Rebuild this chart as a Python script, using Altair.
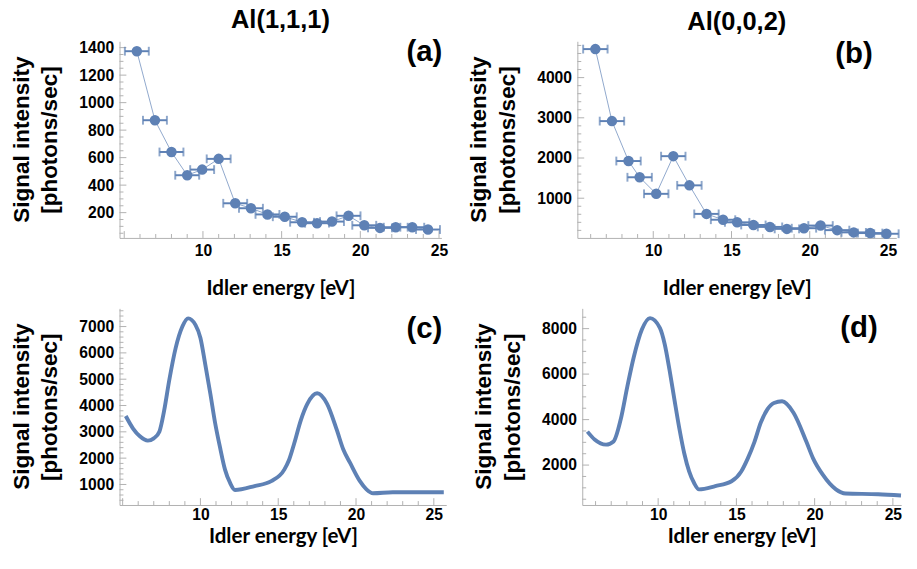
import altair as alt
import pandas as pd

BLUE = "#5E81B5"
AXIS_GRAY = "#b0b0b0"
TICK_FONT = "Liberation Sans"

# ---- Panel (a): Al(1,1,1) measured ----
a_x = [5.8, 6.95, 8.0, 9.0, 9.95, 11.0, 12.05, 13.05, 14.1, 15.2, 16.3, 17.25,
       18.2, 19.25, 20.25, 21.25, 22.25, 23.3, 24.3]
a_y = [1374, 872, 641, 472, 513, 591, 268, 232, 187, 170, 130, 123,
       135, 177, 108, 89, 94, 94, 77]
a_err = 0.76

# ---- Panel (b): Al(0,0,2) measured ----
b_x = [6.3, 7.36, 8.42, 9.13, 10.19, 11.28, 12.31, 13.4, 14.46, 15.36, 16.4,
       17.46, 18.54, 19.63, 20.69, 21.75, 22.81, 23.86, 24.9]
b_y = [4709, 2918, 1925, 1521, 1109, 2046, 1320, 610, 465, 400, 334,
       286, 237, 254, 320, 206, 150, 133, 116]
b_err = 0.78

# ---- Panel (c): Al(1,1,1) simulated ----
c_x = [5.2, 5.67, 6.09, 6.62, 7.0, 7.36, 7.67, 7.99, 8.41, 8.84, 9.21, 9.68,
       10.0, 10.31, 10.64, 10.95, 11.27, 11.58, 11.9, 12.22, 13.48, 14.55,
       15.39, 15.7, 16.03, 16.45, 16.87, 17.5, 18.14, 18.77, 19.19, 19.62,
       20.25, 20.67, 21.1, 22.36, 25.64]
c_y = [3602, 3126, 2840, 2665, 2751, 3004, 3814, 4940, 6189, 7000, 7312, 7063,
       6565, 5565, 4439, 3316, 2379, 1565, 1067, 792, 941, 1126,
       1565, 1940, 2565, 3439, 4063, 4465, 4063, 3063, 2316, 1818,
       1126, 814, 665, 703, 703]

# ---- Panel (d): Al(0,0,2) simulated ----
d_x = [5.48, 5.94, 6.67, 7.15, 7.61, 8.03, 8.44, 8.96, 9.48, 10.11, 10.42,
       10.73, 11.04, 11.36, 11.67, 11.98, 12.29, 12.61, 13.65, 14.69, 15.31,
       15.73, 16.15, 16.56, 16.98, 17.4, 17.92, 18.65, 19.48, 19.9, 20.52,
       21.36, 21.98, 24.06, 25.52]
d_y = [3471, 3127, 2899, 3041, 4017, 5449, 6740, 7957, 8460, 8030, 7312,
       6168, 4877, 3587, 2512, 1720, 1221, 933, 1075, 1290, 1720,
       2297, 3011, 3871, 4447, 4731, 4804, 4301, 3011, 2297, 1578,
       933, 748, 718, 662]

x_major = [10, 15, 20, 25]
x_all = list(range(5, 27))
a_ymajor = [200, 400, 600, 800, 1000, 1200, 1400]
a_yall = list(range(50, 1500, 50))
b_ymajor = [1000, 2000, 3000, 4000]
b_yall = list(range(200, 5000, 200))
c_ymajor = [1000, 2000, 3000, 4000, 5000, 6000, 7000]
c_yall = list(range(200, 7800, 200))
d_ymajor = [2000, 4000, 6000, 8000]
d_yall = list(range(500, 9000, 500))


def panel(xs, ys, err, xdom, ydom, W, H, ymaj, yall, label, lab_dx, lab_y,
          title=None, lpad=6, tpad=8):
    df = pd.DataFrame({"x": xs, "y": ys})
    xsc = alt.Scale(domain=xdom, nice=False, zero=False)
    ysc = alt.Scale(domain=ydom, nice=False, zero=False)
    base = alt.Chart(df)

    main_x = alt.X("x:Q", scale=xsc, axis=alt.Axis(
        values=x_major, format="d", ticks=False, grid=False, domainColor=AXIS_GRAY, domainWidth=1,
        labelFont=TICK_FONT, labelFontWeight="bold", labelFontSize=16, labelColor="black",
        labelPadding=lpad, title="Idler energy [eV]", titleFont="Lato", titleFontSize=21,
        titleFontWeight="bold", titleColor="black", titlePadding=tpad))
    main_y = alt.Y("y:Q", scale=ysc, axis=alt.Axis(
        values=ymaj, format="d", ticks=False, grid=False, domainColor=AXIS_GRAY, domainWidth=1,
        labelFont=TICK_FONT, labelFontWeight="bold", labelFontSize=16, labelColor="black",
        labelPadding=6, title="[photons/sec]", titleFont=TICK_FONT,
        titleFontSize=23, titleFontWeight="bold", titleColor="black", titlePadding=18))
    nx = alt.X("x:Q", scale=xsc, axis=None)
    ny = alt.Y("y:Q", scale=ysc, axis=None)

    layers = []
    # main layer first: it carries the axes
    if err is None:
        layers.append(base.mark_line(color=BLUE, strokeWidth=4, interpolate="monotone")
                      .encode(x=main_x, y=main_y))
    else:
        layers.append(base.mark_line(color=BLUE, strokeWidth=1, opacity=0.7)
                      .encode(x=main_x, y=main_y))

    # inward axis ticks (major longer, minor shorter)
    xmaj = [v for v in x_all if v % 5 == 0 and xdom[0] <= v <= xdom[1]]
    xmin = [v for v in x_all if v % 5 != 0 and xdom[0] <= v <= xdom[1]]
    ymj = [v for v in yall if v in ymaj and ydom[0] <= v <= ydom[1]]
    ymn = [v for v in yall if v not in ymaj and ydom[0] <= v <= ydom[1]]
    for vals, ln in ((xmaj, 7), (xmin, 4)):
        layers.append(alt.Chart(pd.DataFrame({"v": vals})).mark_rule(
            color=AXIS_GRAY, strokeWidth=1).encode(
            x=alt.X("v:Q", scale=xsc, axis=None), y=alt.value(H), y2=alt.value(H - ln)))
    for vals, ln in ((ymj, 7), (ymn, 4)):
        layers.append(alt.Chart(pd.DataFrame({"v": vals})).mark_rule(
            color=AXIS_GRAY, strokeWidth=1).encode(
            y=alt.Y("v:Q", scale=ysc, axis=None), x=alt.value(0), x2=alt.value(ln)))

    if err is not None:
        eb = base.transform_calculate(lo=f"datum.x - {err}", hi=f"datum.x + {err}")
        layers.append(eb.mark_rule(color=BLUE, strokeWidth=2)
                      .encode(x=alt.X("lo:Q", scale=xsc, axis=None), x2="hi:Q", y=ny))
        for c in ("lo", "hi"):
            layers.append(eb.mark_tick(color=BLUE, orient="vertical", size=9, thickness=2)
                          .encode(x=alt.X(f"{c}:Q", scale=xsc, axis=None), y=ny))
        layers.append(base.mark_circle(color=BLUE, size=115, opacity=1).encode(x=nx, y=ny))

    # first line of the y title (second line is the axis title)
    ytitle = alt.Chart(pd.DataFrame({"t": ["Signal intensity"]})).mark_text(
        font=TICK_FONT, fontSize=23, fontWeight="bold", color="black", angle=270,
        align="center", baseline="middle").encode(
        text="t:N", x=alt.value(-100), y=alt.value(H / 2))
    layers.append(ytitle)

    lab = alt.Chart(pd.DataFrame({"t": [label]})).mark_text(
        font=TICK_FONT, fontSize=30, fontWeight="bold", color="black",
        align="right", baseline="middle").encode(
        text="t:N", x=alt.value(lab_dx), y=alt.value(lab_y))
    layers.append(lab)

    props = dict(width=W, height=H)
    if title is not None:
        props["title"] = alt.TitleParams(title, font=TICK_FONT, fontSize=26, fontWeight="bold",
                                         color="black", anchor="middle", frame="group", offset=5)
    return (alt.layer(*layers)
            .resolve_axis(x="independent", y="independent")
            .properties(**props))


pa = panel(a_x, a_y, a_err, [4.7, 25.15], [16, 1446], 329, 201, a_ymajor, a_yall,
           "(a)", 330, 11, "Al(1,1,1)", lpad=5, tpad=20)
pb = panel(b_x, b_y, b_err, [5.15, 25.53], [12, 4903], 326, 201, b_ymajor, b_yall,
           "(b)", 302, 13, "Al(0,0,2)", lpad=5, tpad=20)
pc = panel(c_x, c_y, None, [4.8, 25.8], [220, 7691], 334, 201, c_ymajor, c_yall,
           "(c)", 330, 21, lpad=2, tpad=3)
pd_ = panel(d_x, d_y, None, [5.15, 25.53], [245, 8890], 326, 201, d_ymajor, d_yall,
            "(d)", 302, 20, lpad=2, tpad=3)

row1 = alt.hconcat(pa, pb, spacing=21)
row2 = alt.hconcat(pc, pd_, spacing=22)
chart = alt.vconcat(row1, row2, spacing=10).properties(
    padding={"left": 3, "top": -7, "right": 0, "bottom": 0}
).configure_view(stroke=None)

chart.save("out.html", embed_options={"renderer": "svg", "actions": False})
